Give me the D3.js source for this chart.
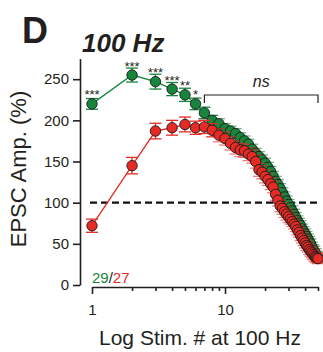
<!DOCTYPE html>
<html>
<head>
<meta charset="utf-8">
<script src="https://cdn.jsdelivr.net/npm/d3@7"></script>
<style>
  body { margin: 0; background: #fff; }
  svg { display: block; font-family: "Liberation Sans", Arial, sans-serif; }
</style>
</head>
<body>
<div id="chart"></div>
<script>
// stimulus numbers 1..50
const stims = d3.range(1, 51);

// green (29 cells) EPSC amplitude, %
const greenValues = [
  220, 255, 247, 238, 231, 220, 209, 200, 196, 190,
  187, 184, 179, 175, 171, 165, 160, 156, 152, 148,
  143, 138, 132, 126, 122, 117, 112, 107, 102, 98,
  94, 90, 86, 82, 78, 75, 72, 68, 65, 62,
  59, 56, 53, 50, 46, 43, 41, 38, 35, 33
];
const greenErr = [
  6.5, 8.5, 9, 8, 8, 7, 7, 6, 6, 6,
  6, 6, 6, 6, 6, 6, 6, 6, 6, 6,
  6, 6, 6, 6, 6, 6, 6, 6, 6, 6,
  6, 6, 6, 6, 6, 6, 6, 6, 6, 6,
  6, 6, 6, 6, 6, 6, 6, 6, 6, 6
];

// red (27 cells)
const redValues = [
  72, 145, 187, 191, 195, 191, 192, 188, 182, 178,
  172, 167, 164, 163, 159, 156, 150, 140, 137, 132,
  128, 123, 119, 110, 103, 96, 93, 89, 86, 83,
  80, 77, 74, 71, 67, 64, 60, 57, 54, 51,
  48, 46, 43, 41, 39, 37, 35, 34, 33, 32
];
const redErr = [
  8, 10, 9.5, 9, 9, 8, 8, 8, 8, 8,
  8, 8, 8, 8, 8, 8, 8, 8, 8, 8,
  7, 7, 7, 7, 7, 7, 7, 7, 7, 7,
  6, 6, 6, 6, 6, 6, 6, 6, 6, 6,
  6, 6, 6, 6, 6, 6, 6, 6, 6, 6
];

// significance stars over the first green points
const starLabels = ["***", "***", "***", "***", "**", "*"];

const yTicks = [0, 50, 100, 150, 200, 250];
const xTicks = [1, 2, 3, 4, 5, 6, 7, 8, 9, 10, 20, 30, 40, 50];
const xLabels = [1, 10];

const green = "#17853b";
const red = "#e62a24";
const ink = "#231f20";

const width = 323, height = 352;

const svg = d3.select("#chart")
  .append("svg")
  .attr("width", width)
  .attr("height", height);

const x = d3.scaleLog().domain([1, 50]).range([92, 318]);
const y = d3.scaleLinear().domain([0, 275]).range([285, 58.6]);

// y axis
const yAxis = svg.append("g")
  .attr("transform", "translate(80,0)")
  .call(d3.axisLeft(y).tickValues(yTicks).tickSize(7).tickSizeOuter(0).tickPadding(4));
yAxis.select(".domain").attr("stroke", ink).attr("stroke-width", 1.6);
yAxis.selectAll(".tick line").attr("stroke", ink).attr("stroke-width", 1.6);
yAxis.selectAll(".tick text")
  .attr("font-size", 15).attr("fill", ink)
  .attr("font-family", "Liberation Sans, Arial, sans-serif");

// x axis
const xAxis = svg.append("g")
  .attr("transform", "translate(0,287)")
  .call(d3.axisBottom(x).tickValues(xTicks).tickSize(7).tickSizeOuter(0).tickPadding(10)
    .tickFormat(d => xLabels.includes(d) ? d : ""));
xAxis.select(".domain").attr("stroke", ink).attr("stroke-width", 1.6);
xAxis.selectAll(".tick line")
  .attr("stroke", ink).attr("stroke-width", 1.6)
  .attr("y2", d => xLabels.includes(d) ? 7 : 4);
xAxis.selectAll(".tick text")
  .attr("font-size", 15).attr("fill", ink)
  .attr("font-family", "Liberation Sans, Arial, sans-serif");

// dashed 100% line
svg.append("line")
  .attr("x1", 90).attr("x2", 320)
  .attr("y1", y(100)).attr("y2", y(100))
  .attr("stroke", "#111").attr("stroke-width", 2.4)
  .attr("stroke-dasharray", "7,4");

function drawSeries(values, errs, color) {
  const pts = stims.map((s, i) => ({ s, v: values[i], e: errs[i] }));
  const g = svg.append("g");

  g.append("path")
    .datum(pts)
    .attr("fill", "none")
    .attr("stroke", color)
    .attr("stroke-width", 1.3)
    .attr("d", d3.line().x(d => x(d.s)).y(d => y(d.v)));

  const eb = g.selectAll("g.err")
    .data(pts)
    .enter()
    .append("g")
    .attr("stroke", color)
    .attr("stroke-width", 1.3)
    .attr("opacity", (d, i) => i < 8 ? 1 : 0.6);
  eb.append("line")
    .attr("x1", d => x(d.s)).attr("x2", d => x(d.s))
    .attr("y1", d => y(d.v - d.e)).attr("y2", d => y(d.v + d.e));
  eb.append("line")
    .attr("x1", d => x(d.s) - 6).attr("x2", d => x(d.s) + 6)
    .attr("y1", d => y(d.v - d.e)).attr("y2", d => y(d.v - d.e));
  eb.append("line")
    .attr("x1", d => x(d.s) - 6).attr("x2", d => x(d.s) + 6)
    .attr("y1", d => y(d.v + d.e)).attr("y2", d => y(d.v + d.e));

  g.selectAll("circle")
    .data(pts)
    .enter()
    .append("circle")
    .attr("cx", d => x(d.s))
    .attr("cy", d => y(d.v))
    .attr("r", 5.2)
    .attr("fill", color)
    .attr("stroke", "#1a1a1a")
    .attr("stroke-width", 0.9);
}

drawSeries(greenValues, greenErr, green);
drawSeries(redValues, redErr, red);

// stars
svg.selectAll("text.star")
  .data(starLabels)
  .enter()
  .append("text")
  .attr("class", "star")
  .attr("x", (d, i) => x(stims[i]))
  .attr("y", (d, i) => y(greenValues[i]) - 4.5)
  .attr("text-anchor", "middle")
  .attr("font-size", 13)
  .attr("fill", ink)
  .text(d => d);

// ns bracket
const bx1 = x(7), bx2 = x(50), by = 95;
svg.append("path")
  .attr("d", `M${bx1},${by + 8}V${by}H${bx2}V${by + 8}`)
  .attr("fill", "none")
  .attr("stroke", ink)
  .attr("stroke-width", 1.2);
svg.append("text")
  .attr("x", (bx1 + bx2) / 2)
  .attr("y", 87)
  .attr("text-anchor", "middle")
  .attr("font-size", 16)
  .attr("font-style", "italic")
  .attr("fill", ink)
  .text("ns");

// n label
const nLabel = svg.append("text")
  .attr("x", 92)
  .attr("y", 283)
  .attr("font-size", 15);
nLabel.append("tspan").attr("fill", green).text("29");
nLabel.append("tspan").attr("fill", ink).text("/");
nLabel.append("tspan").attr("fill", red).text("27");

// titles
svg.append("text")
  .attr("x", 22).attr("y", 43)
  .attr("font-size", 36).attr("font-weight", "bold")
  .attr("fill", ink)
  .text("D");

svg.append("text")
  .attr("x", 82).attr("y", 52)
  .attr("font-size", 26).attr("font-weight", "bold").attr("font-style", "italic")
  .attr("fill", ink)
  .text("100 Hz");

svg.append("text")
  .attr("x", 200).attr("y", 345)
  .attr("text-anchor", "middle")
  .attr("font-size", 21)
  .attr("fill", ink)
  .text("Log Stim. # at 100 Hz");

svg.append("text")
  .attr("transform", "translate(26,169) rotate(-90)")
  .attr("text-anchor", "middle")
  .attr("font-size", 22)
  .attr("fill", ink)
  .text("EPSC Amp. (%)");
</script>
</body>
</html>
